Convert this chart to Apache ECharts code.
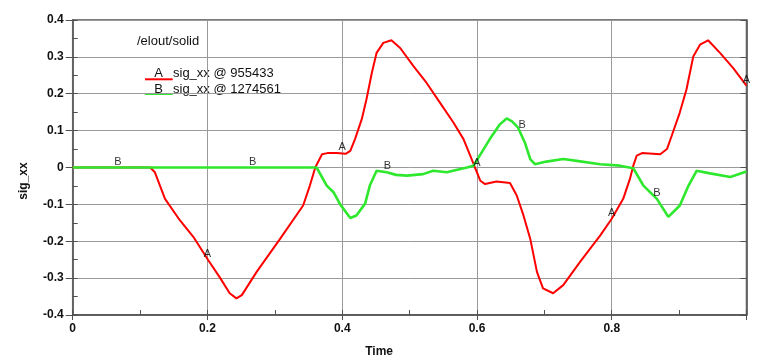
<!DOCTYPE html>
<html>
<head>
<meta charset="utf-8">
<title>sig_xx</title>
<script src="https://cdn.jsdelivr.net/npm/echarts@6/dist/echarts.min.js"></script>
<style>
  html, body { margin: 0; padding: 0; background: #fff; }
  #chart { width: 760px; height: 363px; }
</style>
</head>
<body>
<div id="chart"></div>
<script>
// 曲线 A: sig_xx @ 955433  [time, value]
const curveA = [
  [0, 0], [0.115, 0], [0.122, -0.013], [0.137, -0.085], [0.159, -0.143], [0.179, -0.188],
  [0.201, -0.251], [0.219, -0.3], [0.233, -0.341], [0.243, -0.355], [0.251, -0.346],
  [0.273, -0.283], [0.308, -0.193], [0.342, -0.103], [0.352, -0.049], [0.36, 0],
  [0.37, 0.036], [0.378, 0.039], [0.392, 0.039], [0.405, 0.037], [0.412, 0.045],
  [0.419, 0.077], [0.429, 0.131], [0.436, 0.185], [0.444, 0.257], [0.451, 0.311],
  [0.461, 0.338], [0.473, 0.345], [0.486, 0.324], [0.506, 0.274], [0.525, 0.23],
  [0.545, 0.176], [0.565, 0.122], [0.58, 0.077], [0.59, 0.032], [0.597, 0],
  [0.605, -0.036], [0.612, -0.045], [0.629, -0.038], [0.649, -0.042], [0.659, -0.076],
  [0.669, -0.13], [0.679, -0.193], [0.689, -0.283], [0.698, -0.328], [0.713, -0.341],
  [0.728, -0.319], [0.753, -0.256], [0.783, -0.184], [0.8, -0.139], [0.817, -0.085],
  [0.827, -0.031], [0.832, 0.005], [0.837, 0.032], [0.845, 0.039], [0.872, 0.036],
  [0.882, 0.05], [0.889, 0.086], [0.901, 0.149], [0.911, 0.212], [0.921, 0.301],
  [0.931, 0.333], [0.943, 0.345], [0.961, 0.31], [0.98, 0.27], [1.0, 0.222]
];

// 曲线 B: sig_xx @ 1274561
const curveB = [
  [0, 0], [0.362, 0], [0.377, -0.049], [0.387, -0.067], [0.397, -0.1], [0.412, -0.137],
  [0.421, -0.13], [0.434, -0.098], [0.441, -0.049], [0.451, -0.009], [0.466, -0.013],
  [0.48, -0.02], [0.496, -0.022], [0.52, -0.018], [0.535, -0.009], [0.555, -0.013],
  [0.585, 0], [0.595, 0.005], [0.607, 0.041], [0.619, 0.077], [0.634, 0.117],
  [0.644, 0.133], [0.652, 0.125], [0.661, 0.108], [0.671, 0.068], [0.679, 0.023],
  [0.686, 0.009], [0.703, 0.016], [0.728, 0.023], [0.748, 0.018], [0.783, 0.009],
  [0.812, 0.005], [0.832, -0.002], [0.847, -0.049], [0.867, -0.085], [0.884, -0.134],
  [0.901, -0.103], [0.914, -0.049], [0.926, -0.009], [0.946, -0.016], [0.976, -0.026],
  [1.0, -0.011]
];

// 曲线上的字母标记
const markA = [[0.2, -0.25], [0.4, 0.039], [0.6, -0.005], [0.8, -0.139], [1.0, 0.222]];
const markB = [[0.067, 0], [0.267, 0], [0.467, -0.013], [0.667, 0.1], [0.867, -0.085]];

const legendTitle = '/elout/solid';
const seriesNames = ['sig_xx @ 955433', 'sig_xx @ 1274561'];
const seriesLetters = ['A', 'B'];
const colors = ['#ff0000', '#2ee82e'];

const FONT = '"Liberation Sans", Arial, sans-serif';
const AXIS_COLOR = '#505050';
const GRID_COLOR = '#9a9a9a';

const chart = echarts.init(document.getElementById('chart'), null, { renderer: 'canvas' });

const tickLabel = { fontFamily: FONT, fontSize: 12, fontWeight: 'bold', color: '#111' };

// 字母标记用散点系列
const letterSeries = (data, letter) => ({
  type: 'scatter',
  data,
  symbolSize: 1,
  itemStyle: { color: 'rgba(0,0,0,0)' },
  silent: true,
  z: 5,
  label: {
    show: true,
    position: 'top',
    distance: 0,
    formatter: letter,
    fontFamily: FONT,
    fontSize: 11,
    color: '#000'
  }
});

const option = {
  animation: false,
  backgroundColor: '#fff',
  grid: {
    left: 72.7,
    right: 13.5,
    top: 20,
    bottom: 46.3,
    show: true,
    borderColor: AXIS_COLOR,
    borderWidth: 1.5
  },
  xAxis: [
    {
      type: 'value',
      position: 'bottom',
      min: 0,
      max: 1,
      interval: 0.2,
      name: 'Time',
      nameLocation: 'middle',
      nameGap: 31,
      nameTextStyle: { fontFamily: FONT, fontSize: 12, fontWeight: 'bold', color: '#111', padding: [0, 61, 0, 0] },
      axisLine: { onZero: false, lineStyle: { color: AXIS_COLOR, width: 1.5 } },
      axisTick: { length: 5, lineStyle: { color: AXIS_COLOR } },
      axisLabel: Object.assign({ margin: 8, formatter: v => (v >= 1 ? '' : String(v)) }, tickLabel),
      splitLine: { show: true, lineStyle: { color: GRID_COLOR, width: 1 } }
    },
    {
      // 内侧小刻度
      type: 'value',
      position: 'bottom',
      min: 0,
      max: 1,
      interval: 0.1,
      axisLine: { show: false, onZero: false },
      axisTick: { inside: true, length: 5, lineStyle: { color: AXIS_COLOR } },
      axisLabel: { show: false },
      splitLine: { show: false }
    }
  ],
  yAxis: [
    {
      type: 'value',
      position: 'left',
      min: -0.4,
      max: 0.4,
      interval: 0.1,
      name: 'sig_xx',
      nameLocation: 'middle',
      nameGap: 43,
      nameTextStyle: { fontFamily: FONT, fontSize: 12, fontWeight: 'bold', color: '#111', padding: [0, 27, 0, 0] },
      axisLine: { onZero: false, lineStyle: { color: AXIS_COLOR, width: 1.5 } },
      axisTick: { length: 7, lineStyle: { color: AXIS_COLOR } },
      axisLabel: Object.assign({ margin: 9 }, tickLabel),
      splitLine: { show: true, lineStyle: { color: GRID_COLOR, width: 1 } }
    },
    {
      type: 'value',
      position: 'left',
      min: -0.4,
      max: 0.4,
      interval: 0.05,
      axisLine: { show: false, onZero: false },
      axisTick: { inside: true, length: 5, lineStyle: { color: AXIS_COLOR } },
      axisLabel: { show: false },
      splitLine: { show: false }
    },
    {
      type: 'value',
      position: 'right',
      min: -0.4,
      max: 0.4,
      interval: 0.1,
      axisLine: { show: true, onZero: false, lineStyle: { color: AXIS_COLOR, width: 1.5 } },
      axisTick: { inside: true, length: 6, lineStyle: { color: AXIS_COLOR } },
      axisLabel: { show: false },
      splitLine: { show: false }
    }
  ],
  series: [
    {
      name: seriesNames[0],
      type: 'line',
      data: curveA,
      showSymbol: false,
      lineStyle: { color: colors[0], width: 2 },
      z: 3
    },
    {
      name: seriesNames[1],
      type: 'line',
      data: curveB,
      showSymbol: false,
      lineStyle: { color: colors[1], width: 2.6 },
      z: 4
    },
    letterSeries(markA, seriesLetters[0]),
    letterSeries(markB, seriesLetters[1])
  ],
  // 图例（手工绘制，字母压在线段上）
  graphic: [
    { type: 'text', left: 137, top: 35, style: { text: legendTitle, font: '13px ' + FONT, fill: '#111' } },
    { type: 'line', shape: { x1: 145, y1: 79.3, x2: 172.7, y2: 79.3 }, style: { stroke: colors[0], lineWidth: 2 } },
    { type: 'text', x: 158.5, y: 73.5, style: { text: seriesLetters[0], font: '13px ' + FONT, fill: '#111', align: 'center', verticalAlign: 'middle' } },
    { type: 'text', x: 173, y: 73.5, style: { text: seriesNames[0], font: '13px ' + FONT, fill: '#111', verticalAlign: 'middle' } },
    { type: 'line', shape: { x1: 145, y1: 94, x2: 172.7, y2: 94 }, style: { stroke: colors[1], lineWidth: 2 } },
    { type: 'text', x: 158.5, y: 89, style: { text: seriesLetters[1], font: '13px ' + FONT, fill: '#111', align: 'center', verticalAlign: 'middle' } },
    { type: 'text', x: 173, y: 89, style: { text: seriesNames[1], font: '13px ' + FONT, fill: '#111', verticalAlign: 'middle' } }
  ]
};

chart.setOption(option);
window.addEventListener('resize', () => chart.resize());
</script>
</body>
</html>
